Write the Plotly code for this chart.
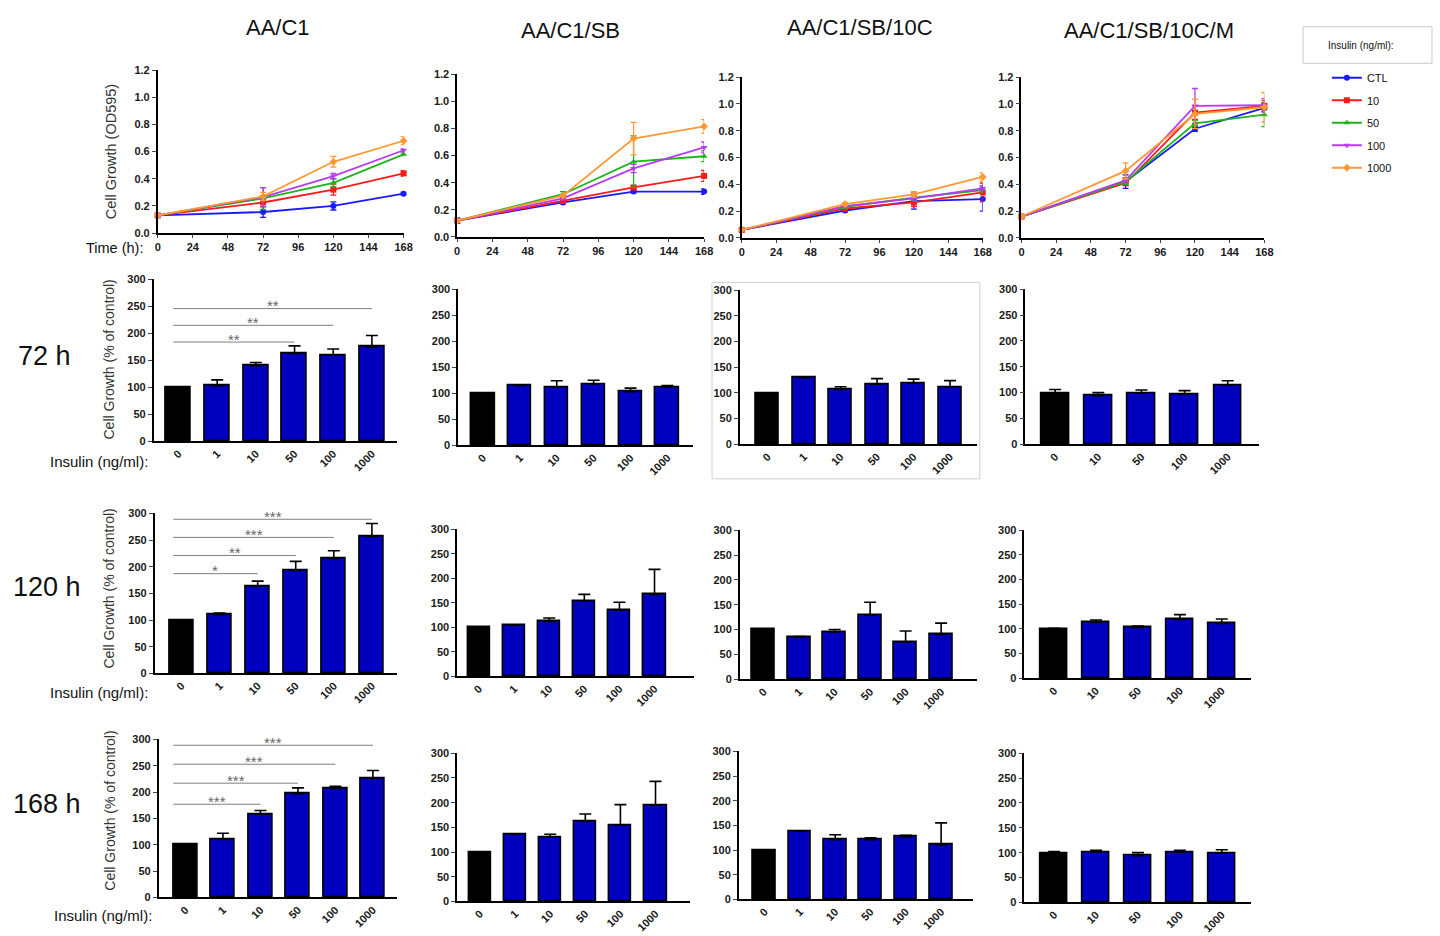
import plotly.graph_objects as go

W, H = 1440, 936
FONT = "Arial, Liberation Sans, sans-serif"

# ---------------- data ----------------
time_h = [0, 72, 120, 168]
time_ticks = [0, 24, 48, 72, 96, 120, 144, 168]
series_names = ["CTL", "10", "50", "100", "1000"]
series_colors = ["#1A1AFF", "#FF1A1A", "#1DB31D", "#B83BF0", "#FF9933"]
series_symbols = ["circle", "square", "triangle-up", "triangle-down", "diamond"]

conditions = ["AA/C1", "AA/C1/SB", "AA/C1/SB/10C", "AA/C1/SB/10C/M"]

# OD595 means (rows: CTL, 10, 50, 100, 1000; columns: 0, 72, 120, 168 h)
od_aac1 = [[0.13, 0.155, 0.20, 0.29], [0.13, 0.225, 0.32, 0.44], [0.13, 0.255, 0.37, 0.58],
           [0.13, 0.265, 0.42, 0.61], [0.13, 0.27, 0.525, 0.68]]
od_aac1_err = [[0.01, 0.04, 0.03, 0.01], [0.01, 0.03, 0.04, 0.02], [0.01, 0.08, 0.03, 0.01],
               [0.01, 0.07, 0.02, 0.01], [0.01, 0.03, 0.04, 0.03]]
od_sb = [[0.12, 0.255, 0.335, 0.335], [0.12, 0.265, 0.365, 0.45], [0.12, 0.315, 0.555, 0.595],
         [0.12, 0.285, 0.505, 0.66], [0.12, 0.305, 0.725, 0.815]]
od_sb_err = [[0.02, 0.01, 0.01, 0.02], [0.01, 0.01, 0.01, 0.04], [0.01, 0.02, 0.19, 0.04],
             [0.01, 0.01, 0.03, 0.04], [0.01, 0.01, 0.12, 0.05]]
od_10c = [[0.06, 0.205, 0.275, 0.29], [0.06, 0.22, 0.265, 0.34], [0.06, 0.233, 0.30, 0.357],
          [0.06, 0.238, 0.295, 0.37], [0.06, 0.253, 0.325, 0.455]]
od_10c_err = [[0.01, 0.01, 0.06, 0.09], [0.01, 0.01, 0.03, 0.07], [0.005, 0.01, 0.02, 0.02],
              [0.005, 0.01, 0.02, 0.02], [0.005, 0.01, 0.02, 0.03]]
od_m = [[0.16, 0.42, 0.815, 0.97], [0.16, 0.41, 0.935, 0.985], [0.16, 0.42, 0.855, 0.92],
        [0.16, 0.43, 0.985, 0.99], [0.16, 0.50, 0.925, 0.975]]
od_m_err = [[0.01, 0.05, 0.02, 0.03], [0.01, 0.02, 0.05, 0.04], [0.01, 0.02, 0.02, 0.09],
            [0.01, 0.02, 0.13, 0.05], [0.01, 0.06, 0.11, 0.11]]

dose6 = ["0", "1", "10", "50", "100", "1000"]
dose5 = ["0", "10", "50", "100", "1000"]

# % of control
g72_aac1 = [100, 103, 140, 163, 160, 175];  g72_aac1_err = [0, 11, 6, 14, 11, 21]
g72_sb = [100, 115, 112, 118, 103, 112];    g72_sb_err = [0, 1, 12, 7, 7, 3]
g72_10c = [100, 130, 107, 117, 119, 112];   g72_10c_err = [0, 1, 5, 11, 8, 12]
g72_m = [99, 94, 99, 97, 115];              g72_m_err = [7, 6, 6, 7, 8]
g120_aac1 = [100, 110, 164, 193, 215, 257]; g120_aac1_err = [0, 3, 9, 17, 15, 24]
g120_sb = [100, 104, 112, 153, 135, 167];   g120_sb_err = [0, 1, 7, 14, 16, 51]
g120_10c = [100, 85, 95, 129, 75, 90];      g120_10c_err = [0, 1, 5, 26, 22, 23]
g120_m = [100, 113, 103, 119, 111];         g120_m_err = [1, 5, 3, 10, 9]
g168_aac1 = [100, 110, 158, 197, 207, 226]; g168_aac1_err = [0, 12, 7, 11, 4, 15]
g168_sb = [100, 136, 130, 163, 155, 195];   g168_sb_err = [0, 1, 6, 14, 41, 48]
g168_10c = [100, 138, 121, 121, 127, 111];  g168_10c_err = [0, 1, 10, 4, 3, 44]
g168_m = [99, 101, 94, 101, 99];            g168_m_err = [3, 4, 6, 4, 7]

# significance brackets (end category index, height, label)
sig72_end = [5, 4, 3];     sig72_y = [246, 215, 184];      sig72_lbl = ["**", "**", "**"]
sig120_end = [5, 4, 3, 2]; sig120_y = [289, 255, 221, 187]; sig120_lbl = ["***", "***", "**", "*"]
sig168_end = [5, 4, 3, 2]; sig168_y = [289, 253, 217, 177]; sig168_lbl = ["***", "***", "***", "***"]

# ---------------- layout helpers ----------------
fig = go.Figure()
layout = {}
counter = [0]


def new_axes(px_x0, px_x1, px_ybot, px_ytop, xr, yr):
    counter[0] += 1
    n = counter[0]
    sx = "" if n == 1 else str(n)
    xref, yref = "x" + sx, "y" + sx
    common = dict(showline=True, linecolor="black", linewidth=1.6, showgrid=False,
                  zeroline=False, fixedrange=True)
    layout["xaxis" + sx] = dict(domain=[px_x0 / W, px_x1 / W], range=xr, anchor=yref, **common)
    layout["yaxis" + sx] = dict(domain=[1 - px_ybot / H, 1 - px_ytop / H], range=yr, anchor=xref, **common)
    return sx, xref, yref


tickfont = dict(family=FONT, size=11, color="#1a1a1a", weight="bold")

# line panels: x px at 0 h, x px at 168 h, y px at 0, y px at 1.2
line_px = [(156, 404, 230, 65), (458, 707, 234, 69), (745, 988, 235, 72), (1027, 1272, 235, 72)]
line_data = [(od_aac1, od_aac1_err), (od_sb, od_sb_err), (od_10c, od_10c_err), (od_m, od_m_err)]

for p, ((x0, x1, yb, yt), (means, errs)) in enumerate(zip(line_px, line_data)):
    sx, xref, yref = new_axes(x0, x1, yb, yt, [0, 168], [0, 1.2])
    layout["xaxis" + sx].update(tickvals=time_ticks, ticks="outside", ticklen=3, tickwidth=1.4,
                                tickfont=tickfont)
    layout["yaxis" + sx].update(tickvals=[0, 0.2, 0.4, 0.6, 0.8, 1.0, 1.2], tickformat=".1f",
                                ticks="outside", ticklen=4, tickwidth=1.4, tickfont=tickfont)
    for s in range(5):
        fig.add_trace(go.Scatter(
            x=time_h, y=means[s], mode="lines+markers", name=series_names[s],
            legendgroup=series_names[s], showlegend=(p == 0),
            line=dict(color=series_colors[s], width=1.8),
            marker=dict(symbol=series_symbols[s], size=6, color=series_colors[s]),
            error_y=dict(type="data", array=errs[s], color=series_colors[s], thickness=1.3, width=3),
            cliponaxis=False, xaxis=xref, yaxis=yref))

# bar panels: axis start px, axis end px, y px at 0, y px at 300, center px of first & last bar
bar_px = [
    (152, 397, 441, 277, 177, 372), (459, 696, 445, 287, 484, 670),
    (743, 982, 444, 288, 771, 955), (1031, 1267, 444, 287, 1061, 1235),
    (153, 397, 676, 514, 180, 372), (458, 697, 679, 530, 480, 657),
    (743, 982, 682, 531, 767, 946), (1030, 1258, 681, 531, 1060, 1229),
    (157, 397, 903, 743, 184, 373), (458, 693, 907, 757, 481, 658),
    (742, 978, 905, 755, 768, 946), (1030, 1258, 908, 757, 1060, 1229),
]
bar_data = [
    (dose6, g72_aac1, g72_aac1_err), (dose6, g72_sb, g72_sb_err), (dose6, g72_10c, g72_10c_err),
    (dose5, g72_m, g72_m_err),
    (dose6, g120_aac1, g120_aac1_err), (dose6, g120_sb, g120_sb_err), (dose6, g120_10c, g120_10c_err),
    (dose5, g120_m, g120_m_err),
    (dose6, g168_aac1, g168_aac1_err), (dose6, g168_sb, g168_sb_err), (dose6, g168_10c, g168_10c_err),
    (dose5, g168_m, g168_m_err),
]
sig_sets = {0: (sig72_end, sig72_y, sig72_lbl), 4: (sig120_end, sig120_y, sig120_lbl),
            8: (sig168_end, sig168_y, sig168_lbl)}

shapes, annotations = [], []

for i, ((ax0, ax1, yb, yt, c0, cl), (cats, vals, errs)) in enumerate(zip(bar_px, bar_data)):
    n = len(cats) - 1
    step = (cl - c0) / n
    xr = [-(c0 - ax0) / step, n + (ax1 - cl) / step]
    sx, xref, yref = new_axes(ax0, ax1, yb, yt, xr, [0, 300])
    idx = list(range(len(cats)))
    layout["xaxis" + sx].update(tickvals=idx, ticktext=cats, tickangle=-45, ticks="",
                                tickfont=dict(family=FONT, size=11, color="#1a1a1a", weight="bold"))
    layout["yaxis" + sx].update(tickvals=[0, 50, 100, 150, 200, 250, 300], ticks="outside",
                                ticklen=4, tickwidth=1.4, tickfont=tickfont)
    colors = ["black"] + ["#0000BE"] * (len(cats) - 1)
    fig.add_trace(go.Bar(
        x=idx, y=vals, width=0.64, marker=dict(color=colors, line=dict(color="black", width=1.6)),
        error_y=dict(type="data", symmetric=False, array=errs, arrayminus=[0] * len(errs),
                     color="black", thickness=1.6, width=6),
        showlegend=False, xaxis=xref, yaxis=yref))
    if i in sig_sets:
        ends, ys, lbls = sig_sets[i]
        start = -(c0 - 171.7) / step
        for e, yv, lb in zip(ends, ys, lbls):
            shapes.append(dict(type="line", xref=xref, yref=yref, x0=start, x1=e, y0=yv, y1=yv,
                               line=dict(color="#7f7f7f", width=1)))
            annotations.append(dict(xref=xref, yref=yref, x=(start + e) / 2, y=yv, text=lb,
                                    showarrow=False, yanchor="middle", yshift=3,
                                    font=dict(family=FONT, size=15, color="#666666")))

# ---------------- texts ----------------
def ptext(x, y, text, size, anchor="center", angle=0, color="#111111"):
    annotations.append(dict(xref="paper", yref="paper", x=x / W, y=1 - y / H, text=text,
                            showarrow=False, xanchor=anchor, yanchor="middle", textangle=angle,
                            font=dict(family=FONT, size=size, color=color)))

for (tx, ty), name in zip([(277, 22), (572, 25), (864, 22), (1156, 25)], conditions):
    ptext(tx, ty, name, 22)

ptext(42, 355, "72 h", 27)
ptext(44, 589, "120 h", 27)
ptext(44, 808, "168 h", 27)
ptext(143, 245, "Time (h):", 14.5, anchor="right")
ptext(148, 461, "Insulin (ng/ml):", 15, anchor="right")
ptext(148, 695, "Insulin (ng/ml):", 15, anchor="right")
ptext(152, 921, "Insulin (ng/ml):", 15, anchor="right")
ptext(109, 148, "Cell Growth (OD595)", 14.5, angle=-90, color="#333333")
ptext(107, 358, "Cell Growth (% of control)", 14, angle=-90, color="#333333")
ptext(107, 590, "Cell Growth (% of control)", 14, angle=-90, color="#333333")
ptext(107, 815, "Cell Growth (% of control)", 14, angle=-90, color="#333333")
ptext(1369, 40, "Insulin (ng/ml):", 10)

# legend title box and framed panel
shapes.append(dict(type="rect", xref="paper", yref="paper", x0=1311 / W, x1=1441 / W,
                   y0=1 - 58 / H, y1=1 - 21 / H, line=dict(color="#C8C8C8", width=1)))
shapes.append(dict(type="rect", xref="paper", yref="paper", x0=715 / W, x1=985 / W,
                   y0=1 - 479 / H, y1=1 - 280 / H, line=dict(color="#D0D0D0", width=1)))

layout.update(
    width=W, height=H, autosize=False, margin=dict(l=0, r=0, t=0, b=0),
    paper_bgcolor="white", plot_bgcolor="white", bargap=0,
    shapes=shapes, annotations=annotations,
    legend=dict(x=1335 / W, y=1 - 58 / H, xanchor="left", yanchor="top", traceorder="grouped",
                tracegroupgap=3.5, itemwidth=30, bgcolor="rgba(0,0,0,0)",
                font=dict(family=FONT, size=11, color="#111111")),
)
fig.update_layout(layout)
fig.write_html("out.html")
